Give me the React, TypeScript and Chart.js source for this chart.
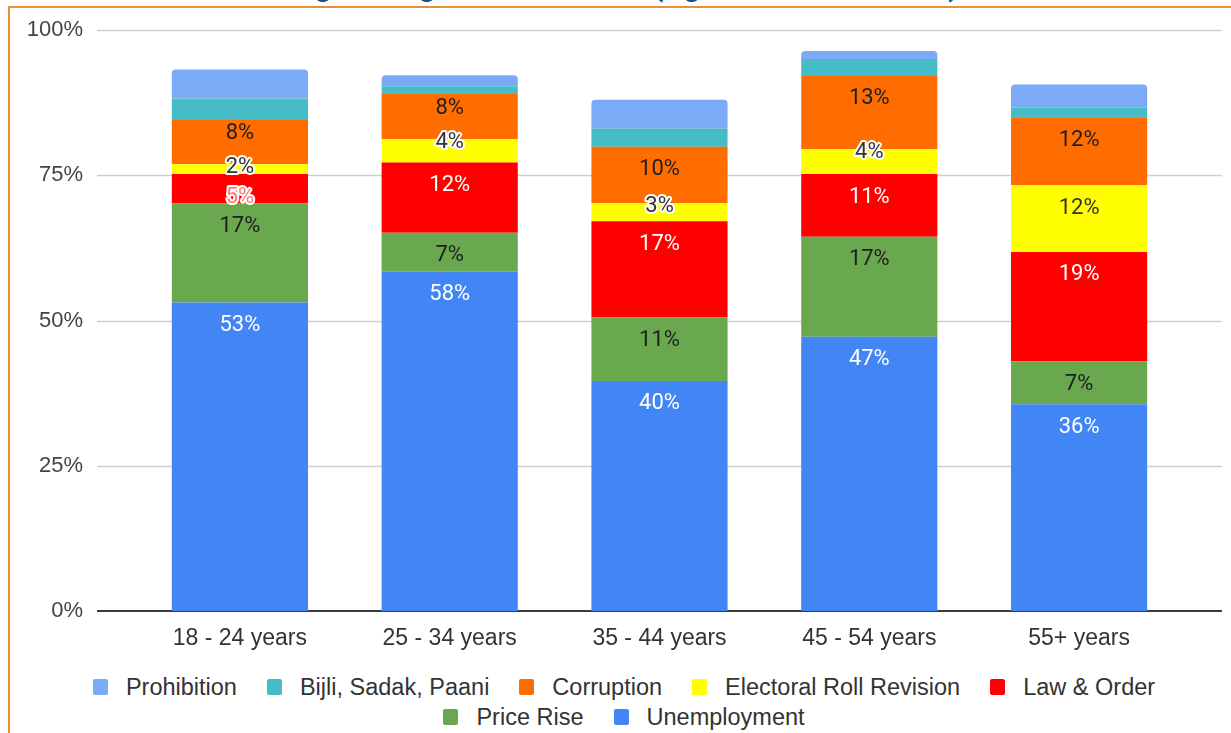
import React, { useEffect, useRef } from "react";
import { Chart, registerables } from "chart.js";

Chart.register(...registerables);

const titleText = "Voting Among Voters of Bihar (Age Wise Breakdown)";
const categories = ["18 - 24 years", "25 - 34 years", "35 - 44 years", "45 - 54 years", "55+ years"];
const unemployment = [53.1, 58.4, 39.6, 47.2, 35.6];
const priceRise = [17.1, 6.7, 10.9, 17.2, 7.4];
const lawOrder = [5.0, 12.1, 16.6, 10.8, 18.8];
const electoralRoll = [1.7, 4.0, 3.1, 4.3, 11.5];
const corruption = [7.6, 7.9, 9.7, 12.6, 11.7];
const bijliSadakPaani = [3.7, 1.2, 3.1, 2.9, 1.6];
const prohibition = [5.0, 1.9, 5.0, 1.4, 4.0];
const yTicks = [0, 25, 50, 75, 100];

// stacking order: bottom -> top
const seriesNames = ["Unemployment", "Price Rise", "Law & Order", "Electoral Roll Revision", "Corruption", "Bijli, Sadak, Paani", "Prohibition"];
const seriesValues = [unemployment, priceRise, lawOrder, electoralRoll, corruption, bijliSadakPaani, prohibition];
const seriesColors = ["#4285f4", "#6aa84f", "#ff0000", "#ffff00", "#ff6d01", "#46bdc6", "#7baaf7"];
const seriesLabelColors = ["#ffffff", "#1f1f1f", "#ffffff", "#333333", "#1f1f1f", "", ""];
const seriesShowLabels = [true, true, true, true, true, false, false];
// legend order
const legendOrder = ["Prohibition", "Bijli, Sadak, Paani", "Corruption", "Electoral Roll Revision", "Law & Order", "Price Rise", "Unemployment"];

const LABEL_FONT = "Roboto, 'Liberation Sans', Arial, sans-serif";
const AXIS_FONT = "'Liberation Sans', Arial, Helvetica, sans-serif";

const gridPlugin = {
  id: "extGrid",
  beforeDatasetsDraw(chart: any) {
    const ctx = chart.ctx;
    const ys = chart.scales.y;
    const left = chart.chartArea.left - 38;
    const right = chart.chartArea.right + 38;
    ctx.save();
    yTicks.forEach((t) => {
      const py = Math.round(ys.getPixelForValue(t));
      ctx.beginPath();
      if (t === 0) {
        ctx.strokeStyle = "#3c3c3c";
        ctx.lineWidth = 2;
        ctx.moveTo(left, py);
        ctx.lineTo(right, py);
      } else {
        ctx.strokeStyle = "#cfcfcf";
        ctx.lineWidth = 1.5;
        ctx.moveTo(left, py + 0.5);
        ctx.lineTo(right, py + 0.5);
      }
      ctx.stroke();
    });
    ctx.restore();
  },
};

const labelPlugin = {
  id: "segLabels",
  afterDatasetsDraw(chart: any) {
    const ctx = chart.ctx;
    const n = chart.data.labels.length;
    ctx.save();
    ctx.font = `400 22px ${LABEL_FONT}`;
    ctx.textAlign = "center";
    ctx.textBaseline = "middle";
    for (let i = 0; i < n; i++) {
      let prevY = Infinity;
      let prevSmall = false;
      chart.data.datasets.forEach((ds: any, di: number) => {
        if (!seriesShowLabels[di]) return;
        const el = chart.getDatasetMeta(di).data[i];
        const top = el.y;
        const h = el.base - el.y;
        const small = h < 27;
        let y = small ? top + 3 : top + 23;
        const need = prevSmall ? 34 : 24;
        if (prevY - y < need) y = prevY - need;
        const text = Math.round(seriesValues[di][i]) + "%";
        const x = el.x;
        const halo = h < 30;
        let fill = seriesLabelColors[di];
        if (halo) {
          ctx.lineJoin = "round";
          ctx.strokeStyle = "#ffffff";
          ctx.lineWidth = 4;
          ctx.strokeText(text, x, y);
          if (fill === "#ffffff") fill = "#ff7a7a";
        }
        ctx.fillStyle = fill;
        ctx.fillText(text, x, y);
        prevY = y;
        prevSmall = small;
      });
    }
    ctx.restore();
  },
};

function ChartCanvas() {
  const ref = useRef<HTMLCanvasElement>(null);
  useEffect(() => {
    if (!ref.current) return;
    const datasets = seriesNames.map((name, i) => ({
      label: name,
      data: seriesValues[i],
      backgroundColor: seriesColors[i],
      borderWidth: 0,
      borderRadius: i === seriesNames.length - 1 ? { topLeft: 4, topRight: 4, bottomLeft: 0, bottomRight: 0 } : 0,
      borderSkipped: "start",
      barPercentage: 0.649,
      categoryPercentage: 1.0,
    }));
    const chart = new Chart(ref.current, {
      type: "bar",
      data: { labels: categories, datasets },
      options: {
        responsive: true,
        maintainAspectRatio: false,
        animation: false,
        layout: { padding: { top: 22, right: 47, bottom: 7, left: 0 } },
        plugins: { legend: { display: false }, tooltip: { enabled: false }, title: { display: false } },
        scales: {
          x: {
            stacked: true,
            grid: { display: false },
            border: { display: false },
            ticks: { color: "#333333", font: { family: AXIS_FONT, size: 23 }, padding: 6 },
            afterFit: (s: any) => { s.height = 50; },
          },
          y: {
            stacked: true,
            min: 0,
            max: 100,
            grid: { display: false, drawTicks: false },
            border: { display: false },
            afterBuildTicks: (s: any) => { s.ticks = yTicks.map((v) => ({ value: v })); },
            ticks: {
              color: "#444444",
              font: { family: AXIS_FONT, size: 22 },
              padding: 52,
              callback: (v: any) => v + "%",
            },
            afterFit: (s: any) => {
              s.width = 125;
              s.paddingTop = 12;
              s.paddingBottom = 12;
            },
          },
        },
      },
      plugins: [gridPlugin, labelPlugin],
    });
    return () => chart.destroy();
  }, []);
  return (
    <div style={{ position: "relative", width: 1221, height: 660 }}>
      <canvas ref={ref} />
    </div>
  );
}

export default function App() {
  return (
    <div style={{ position: "fixed", left: 0, top: 0, width: 1231, height: 733, overflow: "hidden", background: "#ffffff", fontFamily: AXIS_FONT }}>
      <div style={{ position: "absolute", left: 8, top: 6, width: 1240, height: 760, border: "2px solid #e69138", boxSizing: "border-box" }} />
      <div style={{ position: "absolute", left: 10, top: 8 }}>
        <ChartCanvas />
      </div>
      <div style={{ position: "absolute", left: 34, top: 675, width: 1180, display: "flex", flexWrap: "wrap", justifyContent: "center", columnGap: 30, rowGap: 6 }}>
        {legendOrder.map((name) => {
          const idx = seriesNames.indexOf(name);
          return (
            <div key={name} style={{ display: "flex", alignItems: "center", height: 24 }}>
              <span style={{ display: "inline-block", width: 15, height: 16, borderRadius: 2, background: seriesColors[idx], marginRight: 18 }} />
              <span style={{ fontSize: 23.5, lineHeight: "24px", color: "#333333" }}>{name}</span>
            </div>
          );
        })}
      </div>
      <div style={{ position: "absolute", left: 244, top: -30, fontSize: 30, lineHeight: "32px", fontWeight: 700, fontFamily: LABEL_FONT, color: "#1f4e79", whiteSpace: "nowrap", zIndex: 5 }}>
        {titleText}
      </div>
    </div>
  );
}
